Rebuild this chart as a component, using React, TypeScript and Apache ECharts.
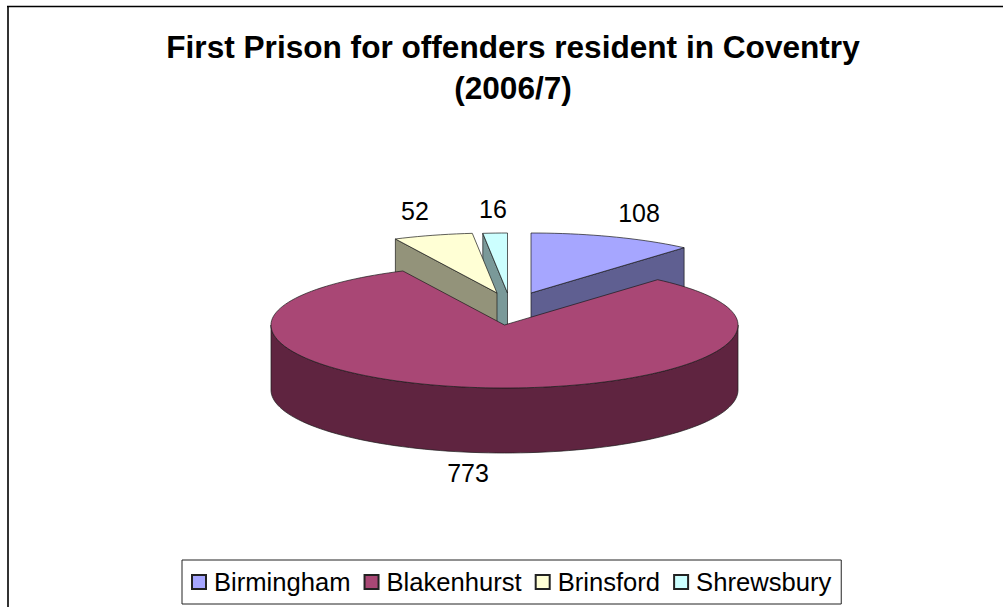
import React, { useEffect, useRef } from "react";
import * as echarts from "echarts";

const categories = ["Birmingham", "Blakenhurst", "Brinsford", "Shrewsbury"];
const values = [108, 773, 52, 16];
const topColors = ["#A6A6FF", "#A94775", "#FFFFD5", "#CCFFFF"];
const sideColors = ["#5F5F91", "#5F2440", "#93937A", "#7A9999"];
const titleLines = "First Prison for offenders resident in Coventry\n(2006/7)";

// layout only
const centers = [[531, 293], [504.5, 325], [497, 293], [507.5, 293]];
const labelPos = [[639, 213], [468, 473], [415, 211], [493, 209]];
const paint = [2, 5, 4, 3];
const RX = 233.5, RY_BACK = 60, RY_FRONT = 63, H = 65;

const total = values.reduce((a, b) => a + b, 0);
const startOf = (i: number) => values.slice(0, i).reduce((a, b) => a + b, 0) / total * 360;

function pt(c: number[], deg: number, dy = 0) {
  const r = deg * Math.PI / 180;
  const cos = Math.cos(r);
  return [c[0] + RX * Math.sin(r), c[1] - cos * (cos > 0 ? RY_BACK : RY_FRONT) + dy];
}
function arc(c: number[], a: number, b: number, dy = 0) {
  const out: number[][] = [];
  const n = Math.max(2, Math.ceil((b - a) / 2));
  for (let k = 0; k <= n; k++) out.push(pt(c, a + (b - a) * k / n, dy));
  return out;
}

const makeItem = (idx: number) => (_p: any, api: any) => {
  const a = startOf(idx);
  const b = a + (api.value(0) as number) / total * 360;
  const c = centers[idx];
  const line = { stroke: "#1a1a1a", lineWidth: 0.7 };
  const side = { fill: sideColors[idx], ...line };
  const children: any[] = [];
  const face = (deg: number) => {
    const e = pt(c, deg);
    children.push({ type: "polygon", shape: { points: [c, e, [e[0], e[1] + H], [c[0], c[1] + H]] }, style: side });
  };
  if (Math.sin(a * Math.PI / 180) < -1e-6) face(a);
  if (Math.sin(b * Math.PI / 180) > 1e-6) face(b);
  const wa = Math.max(a, 90), wb = Math.min(b, 270);
  if (wb > wa) {
    const top = arc(c, wa, wb);
    const bottom = arc(c, wa, wb, H).reverse();
    children.push({ type: "polygon", shape: { points: [...top, ...bottom] }, style: side });
  }
  children.push({ type: "polygon", shape: { points: [c, ...arc(c, a, b)] }, style: { fill: topColors[idx], ...line } });
  children.push({
    type: "text",
    style: {
      text: String(api.value(0)),
      x: labelPos[idx][0], y: labelPos[idx][1],
      align: "center", verticalAlign: "middle",
      fill: "#000", fontSize: 25, fontFamily: "Liberation Sans",
    },
  });
  return { type: "group", children };
};

export default function App() {
  const ref = useRef<HTMLDivElement>(null);
  useEffect(() => {
    document.body.style.margin = "0";
    const chart = echarts.init(ref.current!, undefined, { renderer: "svg" });
    chart.setOption({
      animation: false,
      backgroundColor: "#fff",
      title: {
        text: titleLines,
        left: 508, top: 21, textAlign: "center",
        textStyle: { fontSize: 31.6, fontWeight: "bold", color: "#000", fontFamily: "Liberation Sans", lineHeight: 41 },
      },
      legend: {
        data: categories,
        left: 182, top: 560,
        orient: "horizontal",
        icon: "rect",
        itemWidth: 14, itemHeight: 14, itemGap: 13,
        selectedMode: false,
        padding: [9, 10, 9, 9],
        borderColor: "#222", borderWidth: 1,
        textStyle: { fontSize: 25.6, color: "#000", fontFamily: "Liberation Sans", padding: [0, 0, 0, 3] },
      },
      graphic: [
        { type: "line", silent: true, shape: { x1: 8, y1: 6, x2: 8, y2: 607 }, style: { stroke: "#333", lineWidth: 2 } },
        { type: "line", silent: true, shape: { x1: 7, y1: 6.5, x2: 1003, y2: 6.5 }, style: { stroke: "#000", lineWidth: 1.5 } },
      ],
      series: categories.map((name, i) => ({
        type: "custom",
        name,
        coordinateSystem: "none",
        z: paint[i],
        data: [[values[i]]],
        renderItem: makeItem(i),
        itemStyle: { color: topColors[i], borderColor: "#222", borderWidth: 1 },
      })),
    });
    return () => chart.dispose();
  }, []);
  return <div ref={ref} style={{ width: 1003, height: 607 }} />;
}
